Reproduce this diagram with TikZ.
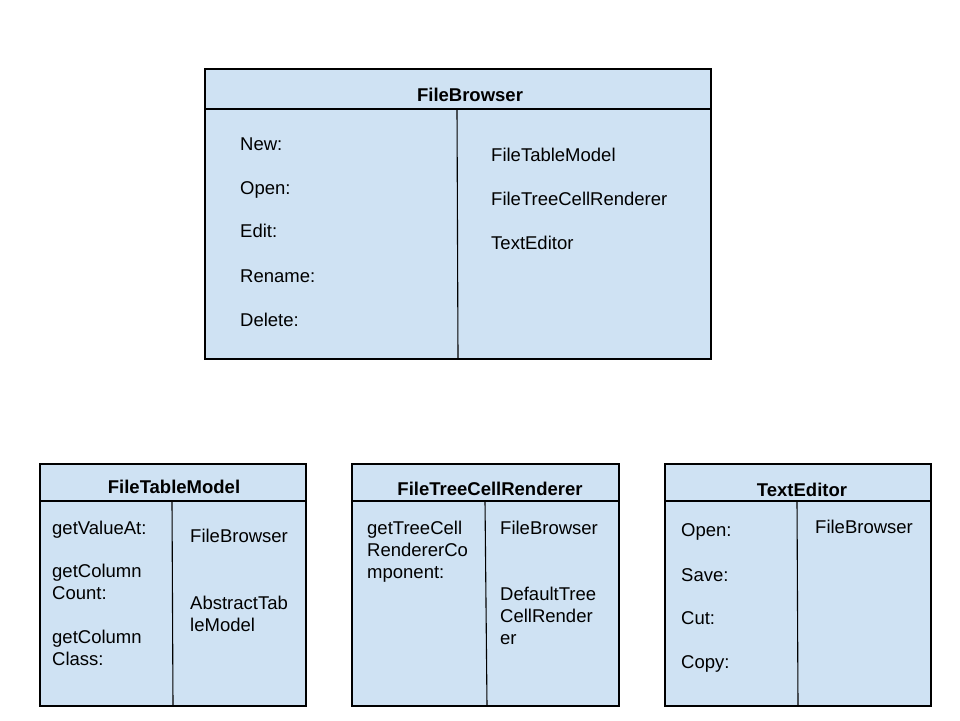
\documentclass[tikz,border=0pt]{standalone}
\usepackage{fontspec}
\setmainfont{Liberation Sans}
\definecolor{boxfill}{HTML}{CFE2F3}
\begin{document}
\begin{tikzpicture}[x=1pt,y=-1pt,
  cls/.style={draw=black, line width=1.1pt, fill=boxfill, inner sep=0pt},
  sep/.style={line width=1.1pt, draw=black},
  txt/.style={anchor=base west, inner sep=0pt, align=left, font=\fontsize{18.5}{22}\selectfont},
  ttl/.style={anchor=base, inner sep=0pt, font=\fontsize{18.5}{22}\selectfont\bfseries}]
\useasboundingbox[fill=white] (0,0) rectangle (960,720);

% FileBrowser
\node[cls, minimum width=506pt, minimum height=290pt] (fb) at (458,214) {};
\draw[sep] (205,109) -- (711,109);
\draw[sep] (457,109) -- (458,359);
\node[ttl] (fbt) at (470,101.6) {FileBrowser};
\node[txt] (fb1) at (240,150.6) {New:};
\node[txt] (fb2) at (240,194.6) {Open:};
\node[txt] (fb3) at (240,237.6) {Edit:};
\node[txt] (fb4) at (240,282.6) {Rename:};
\node[txt] (fb5) at (240,326.6) {Delete:};
\node[txt] (fb6) at (491,161.6) {FileTableModel};
\node[txt] (fb7) at (491,205.6) {FileTreeCellRenderer};
\node[txt] (fb8) at (491,249.6) {TextEditor};

% FileTableModel
\node[cls, minimum width=266pt, minimum height=242pt] (ftm) at (173,585) {};
\draw[sep] (40,501) -- (307,501);
\draw[sep] (172,501) -- (173,706);
\node[ttl] (ftmt) at (174,493.6) {FileTableModel};
\node[txt] (ftm1) at (52,534.6) {getValueAt:};
\node[txt] (ftm2) at (52,599.6) {getColumn\\Count:};
\node[txt] (ftm3) at (52,665.6) {getColumn\\Class:};
\node[txt] (ftm4) at (190,542.6) {FileBrowser};
\node[txt] (ftm5) at (190,631.6) {AbstractTab\\leModel};

% FileTreeCellRenderer
\node[cls, minimum width=267pt, minimum height=242pt] (ftc) at (485.5,585) {};
\draw[sep] (352,501) -- (619,501);
\draw[sep] (485,501) -- (487,706);
\node[ttl] (ftct) at (490,495.6) {FileTreeCellRenderer};
\node[txt] (ftc1) at (367,578.6) {getTreeCell\\RendererCo\\mponent:};
\node[txt] (ftc2) at (500,534.6) {FileBrowser};
\node[txt] (ftc3) at (500,644.6) {DefaultTree\\CellRender\\er};

% TextEditor
\node[cls, minimum width=266pt, minimum height=242pt] (te) at (798,585) {};
\draw[sep] (665,501) -- (931,501);
\draw[sep] (797,501) -- (798,706);
\node[ttl] (tet) at (802,496.6) {TextEditor};
\node[txt] (te1) at (681,536.6) {Open:};
\node[txt] (te2) at (681,581.6) {Save:};
\node[txt] (te3) at (681,624.6) {Cut:};
\node[txt] (te4) at (681,668.6) {Copy:};
\node[txt] (te5) at (815,533.6) {FileBrowser};
\end{tikzpicture}
\end{document}
